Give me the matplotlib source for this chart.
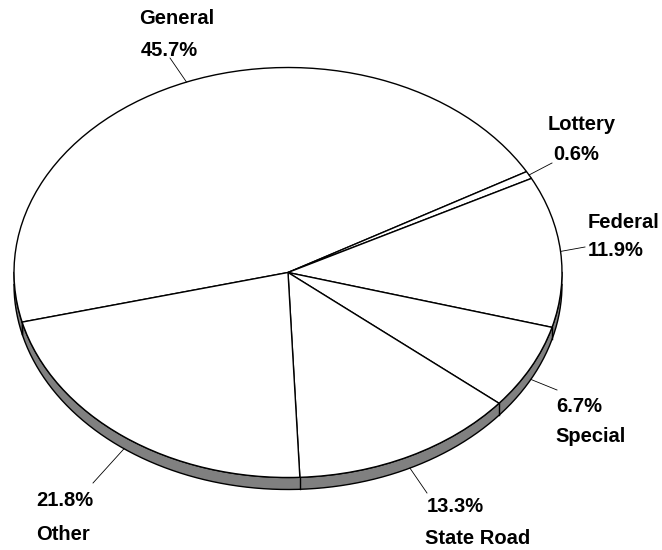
import numpy as np
import matplotlib.pyplot as plt

labels = ["General", "Lottery", "Federal", "Special", "State Road", "Other"]
shares = [45.7, 0.6, 11.9, 6.7, 13.3, 21.8]
pct_text = ["45.7%", "0.6%", "11.9%", "6.7%", "13.3%", "21.8%"]

plt.rcParams['font.family'] = ['Liberation Sans', 'DejaVu Sans']

W, H = 662, 550
cx, cy = 288, 272.5    # pie centre in pixels (from top)
rx, ry = 274, 205      # ellipse radii in pixels
rim = 12               # rim thickness in pixels
h = rim / ry

fig = plt.figure(figsize=(W / 100, H / 100), dpi=100)
ax = fig.add_axes([0, 0, 1, 1])

start = 194
wedges, _ = ax.pie(shares, radius=1, counterclock=False, startangle=start,
                   wedgeprops=dict(facecolor="white", edgecolor="black", linewidth=1.0))
for w in wedges:
    w.set_zorder(3)

ax.set_aspect("auto")
ax.set_xlim(-cx / rx, (W - cx) / rx)
ax.set_ylim((cy - H) / ry, cy / ry)
ax.axis("off")


def px(x, y):
    return (x - cx) / rx, (cy - y) / ry


# rim of the 3D disc (front half)
t = np.linspace(np.pi, 2 * np.pi, 300)
xs = np.cos(t)
top = np.sin(t)
ax.fill_between(xs, top - h, top, facecolor="#808080", edgecolor="none", zorder=1)
ax.plot(xs, top - h, color="black", lw=1.0, zorder=2)
ax.plot(xs, top, color="black", lw=1.0, zorder=2)

# slice boundaries on the rim
bounds = start - np.cumsum([0] + shares) * 3.6
for b in bounds:
    a = np.deg2rad(b)
    if np.sin(a) < 0:
        ax.plot([np.cos(a), np.cos(a)], [np.sin(a), np.sin(a) - h],
                color="black", lw=1.0, zorder=2)

# leader ends and label lines (pixel positions)
leader_end = [(170, 58), (552, 163), (585, 247), (557, 390), (427, 493), (93, 483)]
text_lines = [
    [("General", 139, 19), ("45.7%", 141, 50)],
    [("Lottery", 548, 125), ("0.6%", 553, 155)],
    [("Federal", 588, 222), ("11.9%", 588, 250)],
    [("6.7%", 556, 406), ("Special", 555, 436)],
    [("13.3%", 427, 507), ("State Road", 425, 538)],
    [("21.8%", 36, 500), ("Other", 36, 535)],
]

for i in range(len(shares)):
    mid = np.deg2rad((bounds[i] + bounds[i + 1]) / 2)
    x0, y0 = np.cos(mid), np.sin(mid)
    if y0 < 0:
        y0 -= h
    x1, y1 = px(*leader_end[i])
    ax.plot([x0, x1], [y0, y1], color="black", lw=0.6, zorder=4)
    for s, lx, ly in text_lines[i]:
        x, y = px(lx, ly)
        ax.text(x, y, s, ha="left", va="center", fontsize=14.5,
                fontweight="bold", zorder=5)

fig.savefig("out.png", dpi=100)
